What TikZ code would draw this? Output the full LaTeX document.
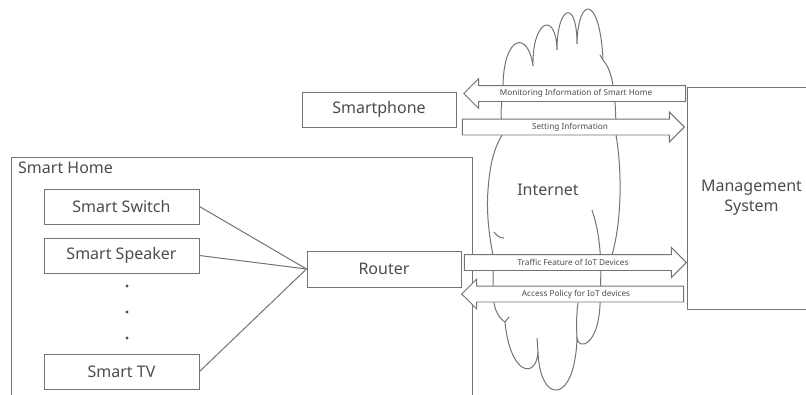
\documentclass[tikz,border=0pt]{standalone}
\usepackage{fontspec}
\setmainfont{Noto Sans}
\usetikzlibrary{shapes.arrows}
\definecolor{linegray}{gray}{0.45}
\definecolor{textgray}{gray}{0.3}

\tikzstyle{devbox} = [draw=linegray, line width=1pt, rectangle,
    minimum width=155pt, minimum height=35pt, inner sep=0pt,
    text=textgray, font=\fontsize{16}{20}\selectfont]
\tikzstyle{flow} = [single arrow, draw=linegray, fill=white, line width=0.9pt,
    minimum height=222pt, single arrow head extend=7pt, single arrow head indent=0pt,
    text height=6.5pt, text depth=1.5pt, inner ysep=3.5pt, inner xsep=2pt]
\tikzstyle{flowtext} = [inner sep=0pt, text=textgray, font=\fontsize{8.2}{10}\selectfont]
\tikzstyle{plain} = [inner sep=0pt, text=textgray, font=\fontsize{16}{20}\selectfont]
\tikzstyle{link} = [draw=linegray, line width=1pt]

\begin{document}
\begin{tikzpicture}[x=1pt, y=-1pt]
\useasboundingbox (0,0) rectangle (806,394);
\clip (0,0) rectangle (806,394);

\node [devbox, minimum width=461pt, minimum height=260pt, anchor=north west] (home) at (11,157) {};
\node [plain, anchor=north west] (homelabel) at ([shift={(7,5)}]home.north west) {Smart Home};

% cloud
\draw[link] (503,85) .. controls (504,35) and (528,30) .. (533,66)
    .. controls (532,20) and (556,10) .. (557,50)
    .. controls (557,5) and (577,-2) .. (577,44)
    .. controls (578,-5) and (600,-5) .. (603,60)
    .. controls (612,70) and (616,90) .. (616,135)
    .. controls (622,170) and (622,220) .. (612,255)
    -- (601,268) -- (600,305)
    .. controls (598,347) and (578,350) .. (577,338)
    .. controls (575,405) and (540,405) .. (538,352)
    .. controls (536,380) and (510,375) .. (505,322)
    .. controls (496,316) and (493,305) .. (493,290)
    -- (493,255)
    .. controls (490,240) and (486,215) .. (488,190)
    .. controls (490,160) and (496,145) .. (502,135)
    -- (501,112) -- cycle;
\draw[link] (494,232) .. controls (497,236) and (500,238) .. (504,238);
\draw[link] (577,338) .. controls (576,322) and (577,310) .. (578,303);
\draw[link] (538,352) -- (537,338);
\draw[link] (505,322) -- (509,317);
\draw[link] (592,210) .. controls (597,225) and (600,240) .. (601,268);
\draw[link] (603,60) -- (600,55);
\node [plain] (internet) at (548,190) {Internet};

\node [devbox, minimum width=129pt, minimum height=222pt, align=center] (mgmt) at (751.5,198) {Management\\System};
\node [devbox, minimum width=154pt] (phone) at (379,109.5) {Smartphone};

\node [flow, shape border rotate=180, anchor=tip] (monitor) at (463,93.5) {};
\node [flow, anchor=tip] (setting) at (685,127) {};
\node [flow, anchor=tip] (traffic) at (687,262.5) {};
\node [flow, shape border rotate=180, anchor=tip] (access) at (461,294) {};
\node [flowtext] (monitortext) at (576,93.5) {Monitoring Information of Smart Home};
\node [flowtext] (settingtext) at (570,127) {Setting Information};
\node [flowtext] (traffictext) at (573,262.5) {Traffic Feature of IoT Devices};
\node [flowtext] (accesstext) at (576,294) {Access Policy for IoT devices};

\node [devbox] (switch) at (121.5,206.5) {Smart Switch};
\node [devbox] (speaker) at (121.5,255.5) {Smart Speaker};
\node [devbox] (tv) at (121.5,371.5) {Smart TV};
\node [devbox, minimum width=154pt, minimum height=36pt] (router) at (384,269) {Router};

\fill[textgray] (127,286) circle (1.7pt);
\fill[textgray] (127,312) circle (1.7pt);
\fill[textgray] (127,338) circle (1.7pt);

\draw[link] (switch.east) -- (router.west);
\draw[link] (speaker.east) -- (router.west);
\draw[link] (tv.east) -- (router.west);
\end{tikzpicture}
\end{document}
